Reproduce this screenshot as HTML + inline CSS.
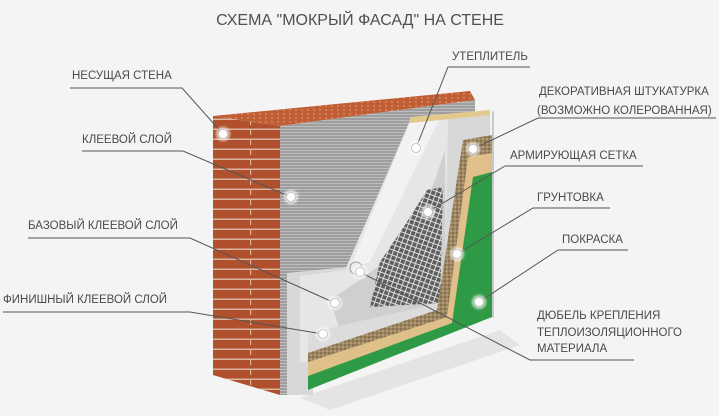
<!DOCTYPE html>
<html><head><meta charset="utf-8"><style>
html,body{margin:0;padding:0;background:#f4f4f4;}
svg{display:block;}
text{font-family:"Liberation Sans",sans-serif;fill:#4a4a4a;font-size:11.5px;}
</style></head><body>
<svg width="719" height="416" viewBox="0 0 719 416" xmlns="http://www.w3.org/2000/svg">
<defs>
<pattern id="brick" width="40" height="10" patternUnits="userSpaceOnUse">
<rect width="40" height="10" fill="#b0502c"/>
<rect y="8.5" width="40" height="1.5" fill="#dcb3a0"/>
<rect x="10" y="0" width="1.2" height="5" fill="#dcb3a0"/>
</pattern>
<pattern id="brickTop" width="6" height="4" patternUnits="userSpaceOnUse">
<rect width="6" height="4" fill="#c05e36"/>
<circle cx="2" cy="2" r="1" fill="#dc865a"/>
</pattern>
<pattern id="panel" width="4" height="3" patternUnits="userSpaceOnUse">
<rect width="4" height="3" fill="#9e9e9e"/>
<rect width="4" height="1" fill="#bdbdbd"/>
</pattern>
<pattern id="mesh" width="5" height="5" patternUnits="userSpaceOnUse" patternTransform="rotate(20)">
<rect width="5" height="5" fill="#5e5e5e"/>
<rect width="5" height="1" fill="#dedede"/>
<rect width="1" height="5" fill="#dedede"/>
</pattern>
<pattern id="sand" width="4" height="4" patternUnits="userSpaceOnUse">
<rect width="4" height="4" fill="#9c8560"/>
<circle cx="1" cy="1" r="0.8" fill="#6e5a3c"/>
<circle cx="3" cy="3" r="0.8" fill="#c9b58e"/>
</pattern>
<filter id="glow"><feGaussianBlur stdDeviation="1.2"/></filter>
</defs>

<text x="360" y="25" text-anchor="middle" style="font-size:16px;fill:#505050">СХЕМА "МОКРЫЙ ФАСАД" НА СТЕНЕ</text>

<polygon points="300,398 500,330 520,345 330,410" fill="#e4e4e4"/>

<polygon points="213,116 280,126 280,395 213,375" fill="url(#brick)"/>
<polygon points="213,116 470,91 475,100 280,126" fill="url(#brickTop)"/>
<polygon points="280,126 475,100 475,300 290,395 280,395" fill="url(#panel)"/>
<polygon points="287,273 347,267 410,120 490,110 492,317 313,362 313,395 287,395" fill="#d8d8d8"/>
<polygon points="300,276 345,270 410,122 448,118 445,300 313,338 313,362 300,362" fill="#e6e6e6"/>
<polygon points="350,268 410,122 440,118 370,262" fill="#f2f2f2"/>
<polygon points="410,117 490,110 490,115 410,123" fill="#e3c98c"/>
<polygon points="330,300 360,280 400,250 420,215 435,180 445,150 446,300 340,330" fill="#cfcfcf"/>
<polygon points="370,307 380,262 405,225 427,190 443,187 440,303" fill="url(#mesh)"/>
<polygon points="308,333 440,303 452,323 308,360" fill="#dcdcdc"/>
<polygon points="463,140 492,135 492,317 308,365 308,353 437,310" fill="url(#sand)"/>
<polygon points="468,157 492,153 492,317 308,377 308,362 447,317" fill="#dfc08a"/>
<polygon points="473,177 492,172 492,317 308,390 308,376 452,323" fill="#2f9a45"/>
<polygon points="492,110 494,112 494,318 492,317" fill="#c8c8c8"/>
<circle cx="356" cy="268" r="6" fill="#eee" stroke="#999" stroke-width="1"/>

<g stroke="#555" stroke-width="1" fill="none">
<polyline points="70,88 182,88 223,134"/>
<polyline points="82,151 183,151 291,197"/>
<polyline points="28,238 190,238 335,303"/>
<polyline points="3,312 190,312 323,334"/>
<polyline points="530,67 448,67 416,148"/>
<polyline points="716,118 538,118 473,149"/>
<polyline points="643,166 505,166 428,212"/>
<polyline points="610,208 533,208 457,254"/>
<polyline points="628,250 558,250 479,302"/>
<polyline points="634,360 530,360 360,272"/>
</g>

<g fill="#fff" opacity="0.7" filter="url(#glow)">
<circle cx="223" cy="134" r="7"/><circle cx="291" cy="197" r="7"/><circle cx="416" cy="148" r="7"/>
<circle cx="473" cy="149" r="7"/><circle cx="428" cy="212" r="7"/><circle cx="457" cy="254" r="7"/>
<circle cx="479" cy="302" r="7"/><circle cx="360" cy="272" r="7"/><circle cx="335" cy="303" r="7"/>
<circle cx="323" cy="334" r="7"/>
</g>
<g fill="#fff" stroke="#bbb" stroke-width="0.8">
<circle cx="223" cy="134" r="4.5"/><circle cx="291" cy="197" r="4.5"/><circle cx="416" cy="148" r="4.5"/>
<circle cx="473" cy="149" r="4.5"/><circle cx="428" cy="212" r="4.5"/><circle cx="457" cy="254" r="4.5"/>
<circle cx="479" cy="302" r="4.5"/><circle cx="360" cy="272" r="4.5"/><circle cx="335" cy="303" r="4.5"/>
<circle cx="323" cy="334" r="4.5"/>
</g>

<text x="72" y="79">НЕСУЩАЯ СТЕНА</text>
<text x="82" y="143">КЛЕЕВОЙ СЛОЙ</text>
<text x="28" y="229">БАЗОВЫЙ КЛЕЕВОЙ СЛОЙ</text>
<text x="3" y="303">ФИНИШНЫЙ КЛЕЕВОЙ СЛОЙ</text>
<text x="452" y="60">УТЕПЛИТЕЛЬ</text>
<text x="539" y="95">ДЕКОРАТИВНАЯ ШТУКАТУРКА</text>
<text x="537" y="114">(ВОЗМОЖНО КОЛЕРОВАННАЯ)</text>
<text x="510" y="159">АРМИРУЮЩАЯ СЕТКА</text>
<text x="537" y="201">ГРУНТОВКА</text>
<text x="562" y="243">ПОКРАСКА</text>
<text x="537" y="319">ДЮБЕЛЬ КРЕПЛЕНИЯ</text>
<text x="537" y="336">ТЕПЛОИЗОЛЯЦИОННОГО</text>
<text x="537" y="352">МАТЕРИАЛА</text>
</svg>
</body></html>
